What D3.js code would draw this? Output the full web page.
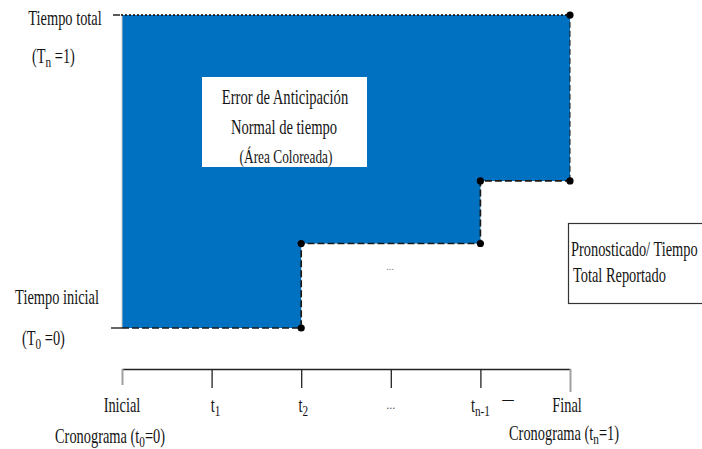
<!DOCTYPE html>
<html><head><meta charset="utf-8">
<script src="https://cdn.jsdelivr.net/npm/d3@7"></script>
<style>
body{margin:0;background:#fff}
text{font-family:"Liberation Serif","Times New Roman",serif;fill:#141414}
</style>
</head><body>
<svg id="c" width="702" height="449"></svg>
<script>
// ---- data ----
const timeIndex = [0, 1, 2, 3, 4, 5];                 // Inicial, t1, t2, ..., t(n-1), Final
const tickMain = ["Inicial", "t", "t", "...", "t", "Final"];
const tickSub  = ["", "1", "2", "", "n-1", ""];
const stepTimes  = [0, 2, 4, 5];                      // forecast change points
const stepValues = [0, 0.27, 0.47, 1];                // forecast / total reported time
const totalTime = 1;
const startTime = 0;
const boxLines = ["Error de Anticipación", "Normal de tiempo", "(Área Coloreada)"];
const legendLines = ["Pronosticado/ Tiempo", "Total Reportado"];

// ---- setup ----
const svg = d3.select("#c");
const x = d3.scaleLinear().domain([0, 5]).range([122, 570]);
const y = d3.scaleLinear().domain([0, 1]).range([328, 15]);
const BLUE = "#0070C0";
const SX = 0.72;

const steps = stepTimes.map((t, i) => ({t, v: stepValues[i]}));

// text helper: parts = [[text, isSub], ...]
function label(px, py, parts, size, anchor, sx, fill) {
  const t = svg.append("text")
    .attr("transform", `translate(${px},${py}) scale(${sx},1)`)
    .attr("text-anchor", anchor || "middle")
    .style("font-size", size + "px");
  if (fill) t.style("fill", fill);
  let down = false;
  parts.forEach(([s, sub]) => {
    if (!s) return;
    const ts = t.append("tspan").text(s);
    if (sub && !down) { ts.attr("dy", size * 0.22).style("font-size", (size * 0.78) + "px"); down = true; }
    else if (!sub && down) { ts.attr("dy", -size * 0.22); down = false; }
  });
  return t;
}

// ---- blue area ----
const area = d3.area()
  .x(d => x(d.t))
  .y0(y(totalTime))
  .y1(d => y(d.v))
  .curve(d3.curveStepAfter);
svg.append("path").datum(steps).attr("d", area).attr("fill", BLUE);

// left thin edge
svg.append("line").attr("x1", x(0)).attr("x2", x(0)).attr("y1", y(totalTime)).attr("y2", y(startTime))
  .attr("stroke", "#c8c8c8").attr("stroke-width", 1);

// dashed step line (without the final vertical)
const line = d3.line().x(d => x(d.t)).y(d => y(d.v)).curve(d3.curveStepAfter);
const stepLinePts = steps.slice(0, -1).concat([{t: stepTimes[stepTimes.length - 1], v: stepValues[stepValues.length - 2]}]);
svg.append("path").datum(stepLinePts).attr("d", line)
  .attr("fill", "none").attr("stroke", "#1a1a1a").attr("stroke-width", 1.7).attr("stroke-dasharray", "7,3");
// final vertical, thinner dashes
svg.append("path").datum(steps.slice(-2).map((d, i) => ({t: stepTimes[stepTimes.length - 1], v: d.v})))
  .attr("d", d3.line().x(d => x(d.t)).y(d => y(d.v)))
  .attr("fill", "none").attr("stroke", "#1a1a1a").attr("stroke-width", 1).attr("stroke-dasharray", "6,3");

// top dotted line
svg.append("line").attr("x1", x(0)).attr("x2", x(5)).attr("y1", y(totalTime)).attr("y2", y(totalTime))
  .attr("stroke", "#111").attr("stroke-width", 2.2).attr("stroke-linecap", "round").attr("stroke-dasharray", "0,4");
// left short ticks
svg.append("line").attr("x1", x(0) - 9).attr("x2", x(0) - 2).attr("y1", y(totalTime)).attr("y2", y(totalTime))
  .attr("stroke", "#222").attr("stroke-width", 1.5);
svg.append("line").attr("x1", x(0) - 11).attr("x2", x(0)).attr("y1", y(startTime)).attr("y2", y(startTime))
  .attr("stroke", "#333").attr("stroke-width", 1.5);

// dots at corners
const dots = [];
for (let i = 1; i < steps.length; i++) {
  dots.push({t: steps[i].t, v: steps[i - 1].v});
  dots.push({t: steps[i].t, v: steps[i].v});
}
svg.selectAll("circle.dot").data(dots).join("circle").attr("class", "dot")
  .attr("cx", d => x(d.t)).attr("cy", d => y(d.v)).attr("r", 3.6).attr("fill", "#000");

// ---- white text box ----
svg.append("rect").attr("x", 202).attr("y", 77).attr("width", 165).attr("height", 90).attr("fill", "#fff");
label(285, 104, [[boxLines[0]]], 20, "middle", 0.73);
label(284, 134, [[boxLines[1]]], 20, "middle", 0.73);
label(286, 163, [[boxLines[2]]], 18, "middle", 0.74);

// ---- right legend box ----
svg.append("rect").attr("x", 568.5).attr("y", 223.5).attr("width", 150).attr("height", 80)
  .attr("fill", "#fff").attr("stroke", "#333").attr("stroke-width", 1.2);
label(571, 256, [[legendLines[0]]], 20, "start", SX);
label(573, 282, [[legendLines[1]]], 20, "start", SX);

// small "..." in middle
label(390, 270, [["..."]], 10, "middle", 1, "#777");

// ---- y labels ----
label(65, 25, [["Tiempo total"]], 20, "middle", SX);
label(32, 63, [["(T"], ["n", true], [" =1)"]], 20, "start", SX);
label(57, 304, [["Tiempo inicial"]], 20, "middle", SX);
label(22, 345, [["(T"], ["0", true], [" =0)"]], 20, "start", SX);

// ---- x axis ----
const axis = d3.axisBottom(x).tickValues(timeIndex).tickSize(19).tickSizeOuter(0).tickFormat("");
const ag = svg.append("g").attr("transform", `translate(0,369)`).call(axis);
ag.select(".domain").attr("stroke", "#222").attr("stroke-width", 1.6);
ag.selectAll(".tick line").attr("stroke", "#222").attr("stroke-width", 1.3);
ag.selectAll(".tick").filter(d => d === 0).select("line").attr("stroke", "#a0a0a0").attr("stroke-width", 2).attr("y2", 16);
ag.selectAll(".tick").filter(d => d === 5).select("line").attr("stroke", "#a0a0a0").attr("stroke-width", 2).attr("y2", 23);

// tick labels
const labelOffsets = [0, 4, 2, 0, 0, -3];
timeIndex.forEach((ti, i) => {
  if (tickMain[i] === "...") {
    label(x(ti), 409, [["..."]], 12, "middle", 1, "#555");
  } else {
    label(x(ti) + labelOffsets[i], 412, [[tickMain[i]], [tickSub[i], true]], 20, "middle", SX);
  }
});
label(508, 404, [["—"]], 16, "middle", 0.72);
label(110, 443, [["Cronograma (t"], ["0", true], ["=0)"]], 20, "middle", SX);
label(564, 440, [["Cronograma (t"], ["n", true], ["=1)"]], 20, "middle", SX);
</script>
</body></html>
